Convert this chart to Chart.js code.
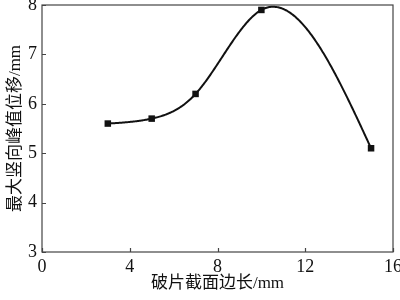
<!DOCTYPE html>
<html lang="zh">
<head>
  <meta charset="UTF-8" />
  <title>最大竖向峰值位移</title>
  <script src="https://cdn.jsdelivr.net/npm/chart.js"></script>
  <style>
    html, body { margin: 0; padding: 0; background: #fff; }
  </style>
</head>
<body>
  <canvas id="chart" width="400" height="300"></canvas>
  <script>
    // data
    const edgeLen = [3, 5, 7, 10, 15];          // 破片截面边长 / mm
    const peakDisp = [5.6, 5.7, 6.2, 7.9, 5.1]; // 最大竖向峰值位移 / mm
    const xTicks = [0, 4, 8, 12, 16];
    const yTicks = [3, 4, 5, 6, 7, 8];

    const ink = '#111';
    const fontFam = '"Liberation Serif", "Times New Roman", "Noto Sans CJK SC", serif';

    // natural cubic spline through the points (like the original's smoothed line)
    function naturalSpline(xs, ys) {
      const n = xs.length;
      const h = [], M = new Array(n).fill(0);
      for (let i = 0; i < n - 1; i++) h.push(xs[i + 1] - xs[i]);
      const a = [], b = [], c = [], r = [];
      for (let i = 1; i < n - 1; i++) {
        a.push(h[i - 1]);
        b.push(2 * (h[i - 1] + h[i]));
        c.push(h[i]);
        r.push(6 * ((ys[i + 1] - ys[i]) / h[i] - (ys[i] - ys[i - 1]) / h[i - 1]));
      }
      const m = b.length;
      for (let i = 1; i < m; i++) {
        const w = a[i] / b[i - 1];
        b[i] -= w * c[i - 1];
        r[i] -= w * r[i - 1];
      }
      for (let i = m - 1; i >= 0; i--) {
        M[i + 1] = (r[i] - (i < m - 1 ? c[i] * M[i + 2] : 0)) / b[i];
      }
      return x => {
        let k = 0;
        while (k < n - 2 && x > xs[k + 1]) k++;
        const t1 = xs[k + 1] - x, t0 = x - xs[k], hk = h[k];
        return M[k] * t1 * t1 * t1 / (6 * hk) + M[k + 1] * t0 * t0 * t0 / (6 * hk)
          + (ys[k] / hk - M[k] * hk / 6) * t1 + (ys[k + 1] / hk - M[k + 1] * hk / 6) * t0;
      };
    }
    const curve = naturalSpline(edgeLen, peakDisp);

    const framePlugin = {
      id: 'frame',
      beforeDatasetsDraw(chart) {
        const { ctx, scales: { x, y } } = chart;
        ctx.save();
        // smoothed line
        ctx.beginPath();
        const x0 = edgeLen[0], x1 = edgeLen[edgeLen.length - 1];
        for (let i = 0; i <= 300; i++) {
          const v = x0 + (x1 - x0) * i / 300;
          const px = x.getPixelForValue(v), py = y.getPixelForValue(curve(v));
          if (i === 0) ctx.moveTo(px, py); else ctx.lineTo(px, py);
        }
        ctx.strokeStyle = ink;
        ctx.lineWidth = 2;
        ctx.stroke();
        ctx.restore();
      },
      afterDraw(chart) {
        const { ctx, chartArea: ca, scales: { x, y } } = chart;
        ctx.save();
        ctx.strokeStyle = '#444';
        ctx.lineWidth = 1.2;
        ctx.strokeRect(ca.left, ca.top, ca.right - ca.left, ca.bottom - ca.top);
        // inward tick marks
        ctx.beginPath();
        xTicks.forEach(v => {
          const px = Math.round(x.getPixelForValue(v)) + 0.5;
          ctx.moveTo(px, ca.bottom); ctx.lineTo(px, ca.bottom - 4);
        });
        yTicks.forEach(v => {
          const py = Math.round(y.getPixelForValue(v)) + 0.5;
          ctx.moveTo(ca.left, py); ctx.lineTo(ca.left + 4, py);
        });
        ctx.stroke();
        ctx.restore();
      }
    };

    new Chart(document.getElementById('chart'), {
      type: 'scatter',
      data: {
        datasets: [{
          data: edgeLen.map((v, i) => ({ x: v, y: peakDisp[i] })),
          showLine: false,
          pointStyle: 'rect',
          pointRadius: 4.6,
          pointBackgroundColor: ink,
          pointBorderColor: ink,
          pointBorderWidth: 0
        }]
      },
      options: {
        responsive: false,
        animation: false,
        devicePixelRatio: 1,
        layout: { padding: { top: 5, right: 7, left: 0, bottom: 0 } },
        plugins: { legend: { display: false }, tooltip: { enabled: false } },
        scales: {
          x: {
            type: 'linear',
            min: 0, max: 16,
            afterBuildTicks: s => { s.ticks = xTicks.map(v => ({ value: v })); },
            afterFit: s => { s.height = 48; s.paddingLeft = 0; s.paddingRight = 0; },
            grid: { display: false, drawTicks: false },
            border: { display: false },
            ticks: { color: ink, padding: 4, maxRotation: 0, font: { family: fontFam, size: 18 } },
            title: {
              display: true,
              text: '破片截面边长/mm',
              color: ink,
              padding: { top: 0, bottom: 6 },
              font: { family: fontFam, size: 17 }
            }
          },
          y: {
            type: 'linear',
            min: 3, max: 8,
            afterBuildTicks: s => { s.ticks = yTicks.map(v => ({ value: v })); },
            afterFit: s => { s.width = 42; s.paddingTop = 0; s.paddingBottom = 0; },
            grid: { display: false, drawTicks: false },
            border: { display: false },
            ticks: { color: ink, padding: 5, font: { family: fontFam, size: 18 } },
            title: {
              display: true,
              text: '最大竖向峰值位移/mm',
              color: ink,
              padding: { top: 5, bottom: 0 },
              font: { family: fontFam, size: 17 }
            }
          }
        }
      },
      plugins: [framePlugin]
    });
  </script>
</body>
</html>
